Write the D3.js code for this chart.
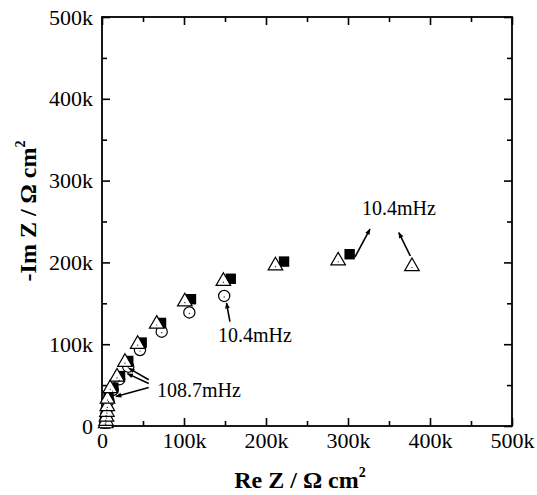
<!DOCTYPE html>
<html>
<head>
<meta charset="utf-8">
<script src="https://cdn.jsdelivr.net/npm/d3@7"></script>
<style>
  html, body { margin: 0; padding: 0; background: #fff; }
  svg { display: block; font-family: "Liberation Serif", "Times New Roman", serif; }
</style>
</head>
<body>
<svg id="chart" width="537" height="495"></svg>
<script>
// values in k ohm cm2
var triRe  = [4.5, 5, 5.5, 6, 6.5, 6.7, 10, 18.3, 28, 43.5, 66.7, 101, 148, 211.5, 288, 378];
var triIm  = [3, 6, 11, 17, 24, 33, 46, 60, 78, 100, 124.7, 152, 177, 196, 202, 195];
var sqRe   = [4, 4.5, 5, 6, 8, 13.8, 22, 32, 48.4, 72, 108.5, 157, 222, 302];
var sqIm   = [3, 6, 11, 17, 34, 47, 61, 79.5, 102, 126, 155, 180, 201, 210];
var cirRe  = [4, 4.5, 5, 6, 8, 13, 21, 32, 46.3, 72.8, 106.5, 149];
var cirIm  = [4, 8, 14, 21, 31, 44, 57, 72.5, 92.9, 115.3, 138.8, 159];

var xTicks = [0, 100, 200, 300, 400, 500];
var yTicks = [0, 100, 200, 300, 400, 500];
var minorTicks = [50, 150, 250, 350, 450];

// annotation arrows (from -> to), in data units
var arrows = [
  {x1: 308.5, y1: 206.6, x2: 326.8, y2: 240.8},
  {x1: 376, y1: 207.8, x2: 362, y2: 236.5},
  {x1: 156, y1: 127.5, x2: 151.8, y2: 150.4},
  {x1: 57, y1: 56.5, x2: 33, y2: 70.5},
  {x1: 57, y1: 52, x2: 31, y2: 64},
  {x1: 57, y1: 47, x2: 17, y2: 36}
];
var notes = [
  {x: 317, y: 258, text: "10.4mHz"},
  {x: 141.5, y: 102.5, text: "10.4mHz"},
  {x: 67, y: 35.5, text: "108.7mHz"}
];

var svg = d3.select("#chart");
var x = d3.scaleLinear().domain([0, 500]).range([102, 512]);
var y = d3.scaleLinear().domain([0, 500]).range([426, 17]);
var fmt = function(d) { return d === 0 ? "0" : d + "k"; };

// axes, ticks pointing inwards
function styleAxis(g) {
  g.select(".domain").remove();
  g.selectAll("line").attr("stroke", "#000").attr("stroke-width", 1.6);
  g.selectAll("text").attr("fill", "#000").style("font-size", "22px")
    .style("font-family", "Liberation Serif");
}
svg.append("g").attr("transform", "translate(0,426)")
  .call(d3.axisBottom(x).tickValues(xTicks).tickFormat(fmt).tickSize(-8).tickPadding(6))
  .call(styleAxis);
svg.append("g").attr("transform", "translate(0,426)")
  .call(d3.axisBottom(x).tickValues(minorTicks).tickFormat("").tickSize(-5))
  .call(styleAxis);
svg.append("g").attr("transform", "translate(102,0)")
  .call(d3.axisLeft(y).tickValues(yTicks).tickFormat(fmt).tickSize(-8).tickPadding(9))
  .call(styleAxis);
svg.append("g").attr("transform", "translate(102,0)")
  .call(d3.axisLeft(y).tickValues(minorTicks).tickFormat("").tickSize(-5))
  .call(styleAxis);
svg.append("g").attr("transform", "translate(0,17)")
  .call(d3.axisTop(x).tickValues(xTicks).tickFormat("").tickSize(-8))
  .call(styleAxis);
svg.append("g").attr("transform", "translate(0,17)")
  .call(d3.axisTop(x).tickValues(minorTicks).tickFormat("").tickSize(-5))
  .call(styleAxis);
svg.append("g").attr("transform", "translate(512,0)")
  .call(d3.axisRight(y).tickValues(yTicks).tickFormat("").tickSize(-8))
  .call(styleAxis);
svg.append("g").attr("transform", "translate(512,0)")
  .call(d3.axisRight(y).tickValues(minorTicks).tickFormat("").tickSize(-5))
  .call(styleAxis);

svg.append("rect")
  .attr("x", x(0)).attr("y", y(500))
  .attr("width", x(500) - x(0)).attr("height", y(0) - y(500))
  .attr("fill", "none").attr("stroke", "#000").attr("stroke-width", 1.8);

// axis titles
var xt = svg.append("text").attr("x", 300).attr("y", 488)
  .attr("text-anchor", "middle").style("font-size", "24px").style("font-weight", "bold");
xt.append("tspan").text("Re Z / \u03A9 cm");
xt.append("tspan").attr("dy", -11).style("font-size", "14px").text("2");

var yt = svg.append("text").attr("transform", "translate(36,211) rotate(-90)")
  .attr("text-anchor", "middle").style("font-size", "24px").style("font-weight", "bold");
yt.append("tspan").text("-Im Z / \u03A9 cm");
yt.append("tspan").attr("dy", -11).style("font-size", "14px").text("2");

// markers: circles behind, then squares, triangles on top
var cirData = d3.zip(cirRe, cirIm);
var sqData = d3.zip(sqRe, sqIm);
var triData = d3.zip(triRe, triIm);

svg.append("g").selectAll("circle").data(cirData).enter().append("circle")
  .attr("cx", function(d) { return x(d[0]); })
  .attr("cy", function(d) { return y(d[1]); })
  .attr("r", 5.6).attr("fill", "#fff").attr("stroke", "#000").attr("stroke-width", 1.2);

svg.append("g").selectAll("rect").data(sqData).enter().append("rect")
  .attr("x", function(d) { return x(d[0]) - 5.2; })
  .attr("y", function(d) { return y(d[1]) - 5.2; })
  .attr("width", 10.4).attr("height", 10.4).attr("fill", "#000");

var tri = d3.symbol().type(d3.symbolTriangle).size(92);
svg.append("g").selectAll("path").data(triData).enter().append("path")
  .attr("transform", function(d) { return "translate(" + x(d[0]) + "," + y(d[1]) + ")"; })
  .attr("d", tri).attr("fill", "#fff").attr("stroke", "#000").attr("stroke-width", 1.2);

// little centre dots seen in the open symbols
svg.append("g").selectAll("circle").data(cirData.concat(triData)).enter().append("circle")
  .attr("cx", function(d) { return x(d[0]); })
  .attr("cy", function(d) { return y(d[1]) + 1; })
  .attr("r", 0.6).attr("fill", "#000");

// arrows
svg.append("defs").append("marker")
  .attr("id", "head").attr("viewBox", "0 0 10 10").attr("refX", 9).attr("refY", 5)
  .attr("markerWidth", 7).attr("markerHeight", 6).attr("markerUnits", "userSpaceOnUse")
  .attr("orient", "auto")
  .append("path").attr("d", "M0,1 L10,5 L0,9 Z").attr("fill", "#000");

svg.append("g").selectAll("line").data(arrows).enter().append("line")
  .attr("x1", function(d) { return x(d.x1); })
  .attr("y1", function(d) { return y(d.y1); })
  .attr("x2", function(d) { return x(d.x2); })
  .attr("y2", function(d) { return y(d.y2); })
  .attr("stroke", "#000").attr("stroke-width", 1.6)
  .attr("marker-end", "url(#head)");

svg.append("g").selectAll("text").data(notes).enter().append("text")
  .attr("x", function(d) { return x(d.x); })
  .attr("y", function(d) { return y(d.y); })
  .style("font-size", "20px")
  .text(function(d) { return d.text; });
</script>
</body>
</html>
